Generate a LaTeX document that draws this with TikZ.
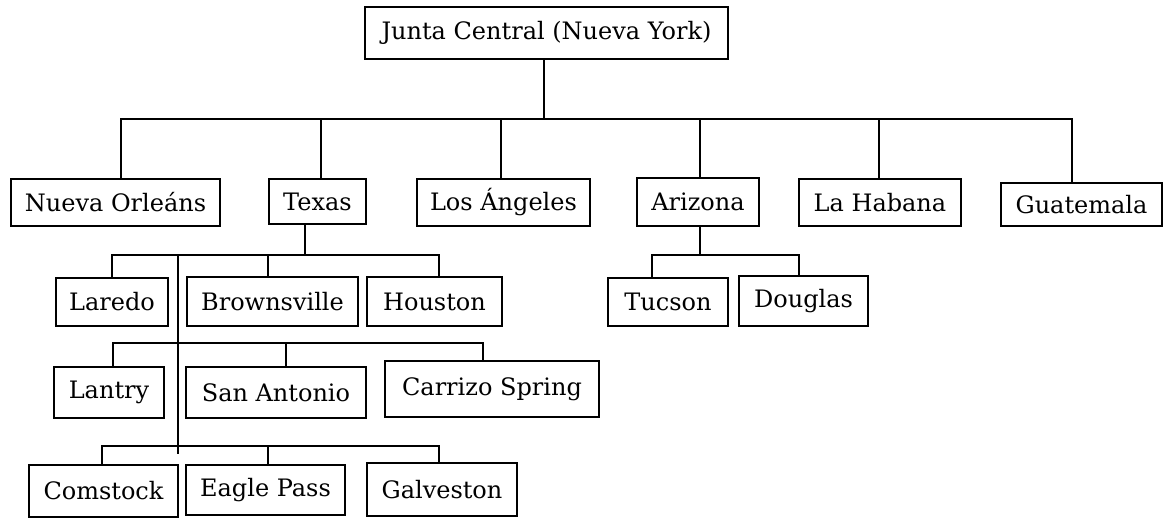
\documentclass[tikz,border=0pt]{standalone}
\usepackage{fontspec}
\setmainfont{DejaVu Serif}
\usepackage{tikz}
\tikzset{%
	ofi/.style 2 args = {draw, line width = 1pt, inner sep = 0pt, minimum width = #1*0.5pt, minimum height = #2*0.5pt, font = \fontsize{12}{14}\selectfont},
	con/.style = {line width = 0.8pt}
}

\begin{document}
\begin{tikzpicture}[x=0.5pt, y=-0.5pt]
	\useasboundingbox (0,0) rectangle (1163,518);
	\node [ofi={363}{52}] (junta) at (546.5,33) {Junta Central (Nueva York)};
	\node [ofi={209}{47}] (orleans) at (115.5,202.5) {Nueva Orleáns};
	\node [ofi={97}{45}] (texas) at (317.5,201.5) {Texas};
	\node [ofi={173}{47}] (angeles) at (503.5,202.5) {Los Ángeles};
	\node [ofi={122}{48}] (arizona) at (698,202) {Arizona};
	\node [ofi={162}{47}] (habana) at (880,202.5) {La Habana};
	\node [ofi={161}{43}] (guatemala) at (1081.5,204.5) {Guatemala};
	\node [ofi={112}{48}] (laredo) at (112,302) {Laredo};
	\node [ofi={171}{49}] (brownsville) at (272.5,301.5) {Brownsville};
	\node [ofi={135}{49}] (houston) at (434.5,301.5) {Houston};
	\node [ofi={110}{51}] (lantry) at (109,392.5) {Lantry};
	\node [ofi={180}{51}] (sanantonio) at (276,392.5) {San Antonio};
	\node [ofi={214}{56}] (carrizo) at (492,389) {Carrizo Spring};
	\node [ofi={149}{52}] (comstock) at (103.5,491) {Comstock};
	\node [ofi={159}{50}] (eaglepass) at (265.5,490) {Eagle Pass};
	\node [ofi={150}{53}] (galveston) at (442,489.5) {Galveston};
	\node [ofi={120}{48}] (tucson) at (668,302) {Tucson};
	\node [ofi={129}{50}] (douglas) at (803.5,301) {Douglas};

	\coordinate (hq) at (544,119);
	\draw [con] ([xshift=-1.25pt]junta.south) -- (hq);
	\draw [con] ([xshift=2.75pt]orleans.north) |- (hq);
	\draw [con] ([xshift=1.75pt]texas.north) |- (hq);
	\draw [con] ([xshift=-1.25pt]angeles.north) |- (hq);
	\draw [con] ([xshift=1pt]arizona.north) |- (hq);
	\draw [con] ([xshift=-0.5pt]habana.north) |- (hq);
	\draw [con] ([xshift=-4.75pt]guatemala.north) |- (hq);

	\coordinate (tx) at (305,255);
	\draw [con] ([xshift=-6.25pt]texas.south) -- (tx);
	\draw [con] (laredo.north) |- (tx);
	\draw [con] ([xshift=-2.25pt]brownsville.north) |- (tx);
	\draw [con] ([xshift=2.25pt]houston.north) |- (tx);

	\coordinate (spinetop) at (178,255);
	\coordinate (spinebot) at (178,454);
	\draw [con] (spinetop) -- (spinebot);
	\coordinate (txb) at (178,343);
	\draw [con] ([xshift=2pt]lantry.north) |- (txb);
	\draw [con] ([xshift=5pt]sanantonio.north) |- (txb);
	\draw [con] ([xshift=-4.5pt]carrizo.north) |- (txb);
	\coordinate (txc) at (178,446);
	\draw [con] ([xshift=-0.75pt]comstock.north) |- (txc);
	\draw [con] ([xshift=1.25pt]eaglepass.north) |- (txc);
	\draw [con] ([xshift=-1.5pt]galveston.north) |- (txc);

	\coordinate (az) at (700,255);
	\draw [con] ([xshift=1pt]arizona.south) -- (az);
	\draw [con] ([xshift=-8pt]tucson.north) |- (az);
	\draw [con] ([xshift=-2.25pt]douglas.north) |- (az);
\end{tikzpicture}
\end{document}
